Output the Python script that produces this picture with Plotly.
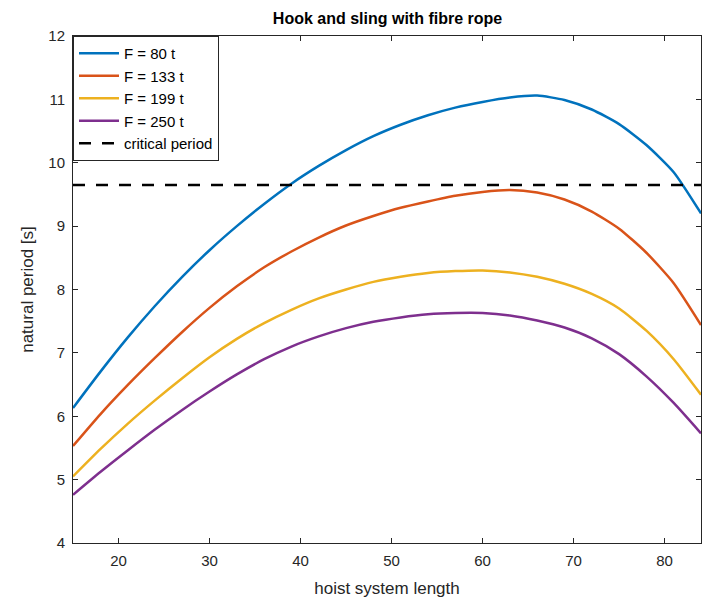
import plotly.graph_objects as go

x_len = [15, 18, 21, 24, 27, 30, 33, 36, 39, 42, 45, 48, 51, 54, 57, 60, 63, 66, 69, 72, 75, 78, 81, 84]
f80 = [6.13, 6.70, 7.24, 7.74, 8.20, 8.62, 9.00, 9.35, 9.67, 9.95, 10.20, 10.42, 10.60, 10.75, 10.87, 10.96, 11.03, 11.06, 10.99, 10.84, 10.61, 10.28, 9.85, 9.20]
f133 = [5.53, 6.03, 6.49, 6.92, 7.33, 7.71, 8.05, 8.35, 8.60, 8.82, 9.01, 9.16, 9.29, 9.39, 9.48, 9.54, 9.57, 9.53, 9.42, 9.23, 8.96, 8.58, 8.10, 7.44]
f199 = [5.05, 5.48, 5.88, 6.25, 6.60, 6.93, 7.22, 7.47, 7.68, 7.86, 8.00, 8.12, 8.20, 8.26, 8.29, 8.30, 8.27, 8.20, 8.09, 7.93, 7.70, 7.35, 6.90, 6.34]
f250 = [4.76, 5.12, 5.46, 5.79, 6.10, 6.39, 6.66, 6.90, 7.10, 7.26, 7.39, 7.49, 7.56, 7.61, 7.63, 7.63, 7.59, 7.51, 7.40, 7.23, 6.98, 6.63, 6.21, 5.73]
critical_period = 9.65
series_names = ["F = 80 t", "F = 133 t", "F = 199 t", "F = 250 t"]
colors = ["#0072BD", "#D95319", "#EDB120", "#7E2F8E"]
x_ticks = [20, 30, 40, 50, 60, 70, 80]
y_ticks = [4, 5, 6, 7, 8, 9, 10, 11, 12]

FONT = "Liberation Sans, Arial"

fig = go.Figure()
for name, ys, c in zip(series_names, [f80, f133, f199, f250], colors):
    fig.add_trace(go.Scatter(x=x_len, y=ys, mode="lines", name=name,
                             line=dict(color=c, width=2.5, shape="spline", smoothing=0.6)))
fig.add_trace(go.Scatter(x=[x_len[0], x_len[-1]], y=[critical_period, critical_period],
                         mode="lines", name="critical period",
                         line=dict(color="black", width=2.5, dash="12px,11px")))

axis_common = dict(showgrid=False, zeroline=False, showline=True, linecolor="#262626",
                   linewidth=1, mirror="ticks", ticks="inside", ticklen=5, tickcolor="#262626",
                   tickfont=dict(family=FONT, size=15, color="#262626"))
fig.update_xaxes(range=[15, 84], tickvals=x_ticks, ticklabelstandoff=4,
                 title=dict(text="hoist system length", font=dict(family=FONT, size=17, color="#262626"), standoff=14),
                 **axis_common)
fig.update_yaxes(range=[4, 12], tickvals=y_ticks, ticklabelstandoff=4,
                 title=dict(text="natural period [s]", font=dict(family=FONT, size=17, color="#262626"), standoff=10),
                 **axis_common)
fig.update_layout(
    width=702, height=603,
    margin=dict(l=73, r=1, t=36, b=60),
    paper_bgcolor="white", plot_bgcolor="white",
    title=dict(text="<b>Hook and sling with fibre rope</b>", x=0.552, xanchor="center", y=0.97, yanchor="middle",
               font=dict(family=FONT, size=16, color="black")),
    legend=dict(x=0, y=1, xanchor="left", yanchor="top", bgcolor="white", bordercolor="#262626",
                borderwidth=1, font=dict(family=FONT, size=15, color="black"),
                tracegroupgap=0, itemwidth=40),
    showlegend=True,
)
fig.write_html("out.html")
